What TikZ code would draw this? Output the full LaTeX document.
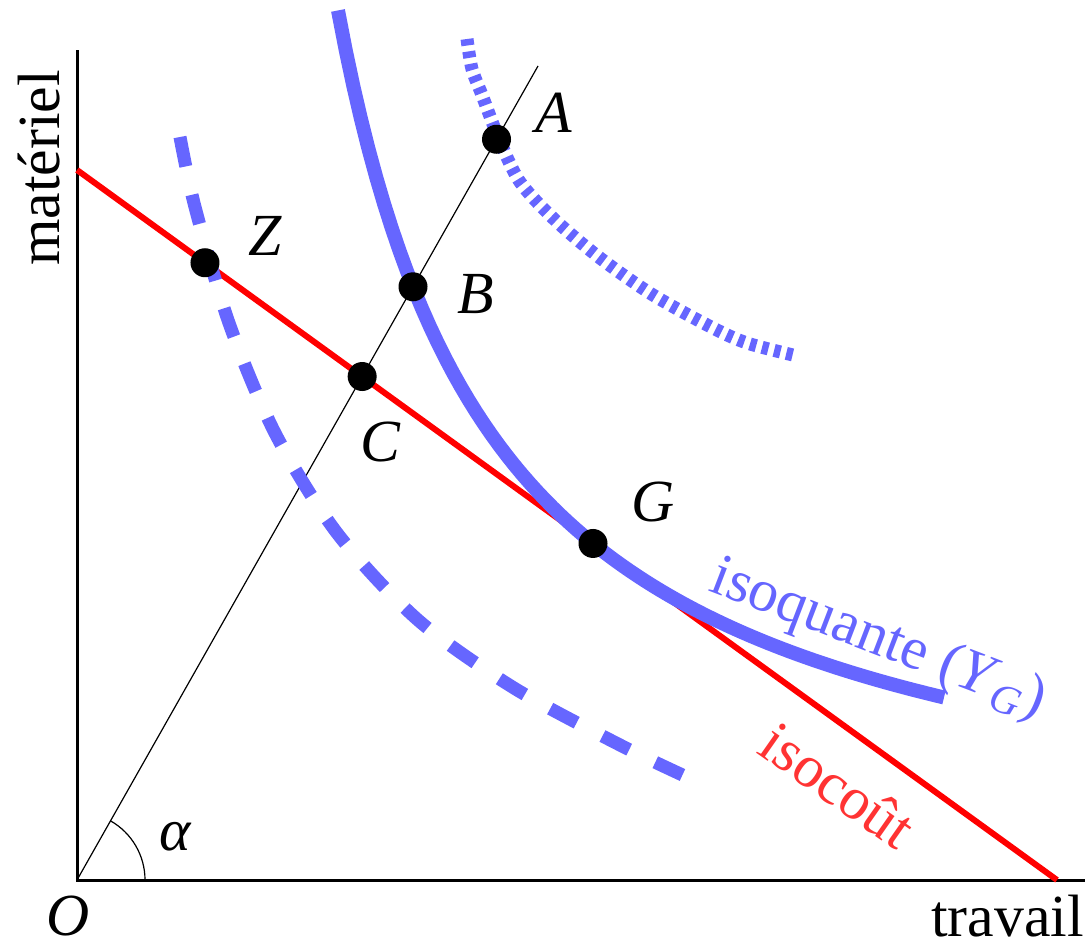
\documentclass[tikz,border=0pt]{standalone}
\usepackage{fontspec}
\setmainfont{Liberation Serif}
\usetikzlibrary{calc}
\definecolor{isoBlue}{HTML}{6666FF}
\definecolor{isoRed}{HTML}{FF0000}
\definecolor{isoRedText}{HTML}{FF3333}

\begin{document}
\begin{tikzpicture}[
    font=\fontsize{17}{20}\selectfont,
    axis/.style={line width=0.03cm},
    ray/.style={line width=0.012cm},
    cost/.style={isoRed, line width=0.06cm},
    quant/.style={isoBlue, line width=0.14cm},
    quantlow/.style={quant, line width=0.13cm, dash pattern=on 0.30cm off 0.29cm},
    quanthigh/.style={quant, line width=0.13cm, dash pattern=on 0.065cm off 0.06cm},
    pt/.style={circle, fill=black, inner sep=0pt, minimum size=0.29cm},
    lbl/.style={font=\fontsize{17}{20}\selectfont\itshape}
  ]
    \useasboundingbox (-0.77,-0.60) rectangle (10.12,8.80);
    % axes
    \coordinate (O) at (0,0);
    \coordinate (ytop) at (0,8.30);
    \coordinate (xend) at (10.08,0);
    \draw[axis] (ytop) -- (O) -- (xend);
    % ray through the origin
    \coordinate (rtop) at (4.61,8.14);
    \draw[ray] (O) -- (rtop);
    \draw[ray] ($(O)+(0.68,0)$) arc[start angle=0, end angle=60.47, radius=0.68];
    % isocost line
    \coordinate (c0) at (0,7.10);
    \coordinate (c1) at (9.80,0);
    \draw[cost] (c0) -- (c1);
    % isoquants
    \draw[quant] plot[domain=2.61:8.67, samples=80] (\x,{14/(\x-1)});
    \draw[quanthigh] plot[smooth] coordinates {(3.90,8.41) (3.95,8.11) (4.05,7.85) (4.22,7.41) (4.43,6.98) (4.78,6.60) (5.23,6.22) (5.76,5.85) (6.36,5.52) (6.70,5.37) (7.16,5.25)};
    \draw[quantlow] plot[smooth] coordinates {(1.03,7.43) (1.18,6.73) (1.52,5.57) (1.98,4.47) (2.60,3.47) (3.41,2.60) (4.37,1.92) (5.43,1.35) (6.12,1.02)};
    % points
    \node[pt] (A) at ($(O)!0.91!(rtop)$) {};
    \node[pt] (B) at (3.36,{14/2.36}) {};
    \node[pt] (C) at (intersection of O--rtop and c0--c1) {};
    \node[pt] (Z) at ($(c0)!0.1306!(c1)$) {};
    \node[pt] (G) at (5.16,{14/4.16}) {};
    % labels
    \node[lbl] (lA) at (4.77,7.67) {A};
    \node[lbl] (lB) at (3.99,5.86) {B};
    \node[lbl] (lC) at (3.03,4.38) {C};
    \node[lbl] (lZ) at (1.88,6.44) {Z};
    \node[lbl] (lG) at (5.76,3.78) {G};
    \node[lbl] (lO) at (-0.09,-0.36) {O};
    \node[lbl] (lalpha) at (0.98,0.43) {α};
    \node (lx) at (9.305,-0.36) {travail};
    \node[rotate=90] (ly) at (-0.38,7.12) {matériel};
    \node[isoBlue, inner sep=0pt, rotate=-21, anchor=base west] (lquant) at (6.30,2.90) {isoquante (\textit{Y}\textsubscript{\textit{G}})};
    \node[isoRedText, inner sep=0pt, rotate=-35, anchor=base west] (lcost) at (6.78,1.28) {isocoût};
  \end{tikzpicture}
\end{document}
